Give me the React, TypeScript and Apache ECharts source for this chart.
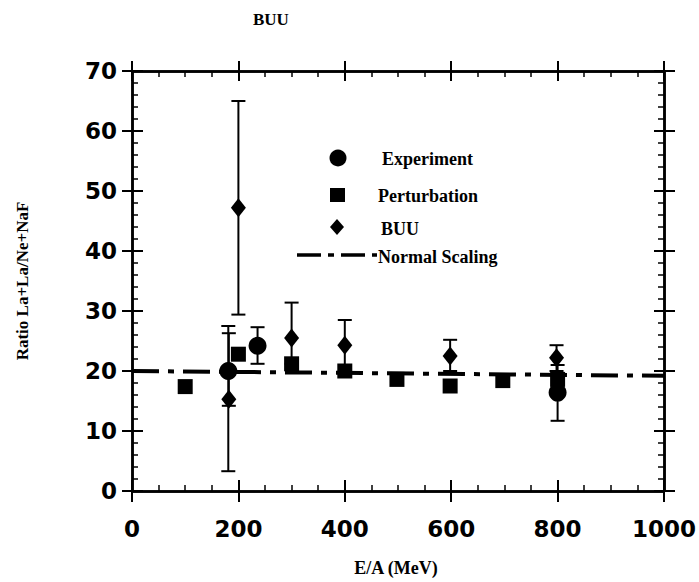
import React, { useEffect, useRef } from "react";
import * as echarts from "echarts";

// ---- data ----
const xTicks = [0, 200, 400, 600, 800, 1000];
const yTicks = [0, 10, 20, 30, 40, 50, 60, 70];

// [E/A, ratio]
const experiment = [
  [181, 20.0],
  [236, 24.2],
  [800, 16.4],
];
// [E/A, low, high]
const experimentErr = [
  [181, 3.3, 27.5],
  [236, 21.2, 27.3],
  [800, 11.7, 21.0],
];

const perturbation = [
  [100, 17.4],
  [200, 22.8],
  [300, 21.2],
  [400, 20.0],
  [498, 18.6],
  [598, 17.5],
  [697, 18.4],
  [800, 18.6],
];

const buu = [
  [182, 15.3],
  [200, 47.2],
  [300, 25.5],
  [400, 24.3],
  [598, 22.5],
  [798, 22.2],
];
const buuErr = [
  [182, 14.2, 26.3],
  [200, 29.4, 65.0],
  [300, 21.2, 31.4],
  [400, 20.0, 28.5],
  [598, 20.0, 25.2],
  [798, 20.0, 24.3],
];

const normalScaling = [
  [0, 20.0],
  [1000, 19.2],
];

const FONT_NUM = "DejaVu Sans";
const FONT_SERIF = "Liberation Serif";

export default function App() {
  const ref = useRef<HTMLDivElement>(null);

  useEffect(() => {
    document.body.style.margin = "0";
    const chart = echarts.init(ref.current!, undefined, { renderer: "svg" });

    const grid = { left: 132, top: 71, right: 35, bottom: 91, containLabel: false, outerBoundsMode: "none" };
    const axisLine = { show: true, onZero: false, lineStyle: { color: "#000", width: 2.5 } };
    const tickStyle = { color: "#000", width: 2 };
    const minorStyle = { color: "#000", width: 1.5 };

    const baseX = { type: "value", min: 0, max: 1000, interval: 200, splitLine: { show: false }, axisLine };
    const baseY = { type: "value", min: 0, max: 70, interval: 10, splitLine: { show: false }, axisLine };

    const errRender = (params: any, api: any) => {
      const x = api.value(0);
      const lo = api.coord([x, api.value(1)]);
      const hi = api.coord([x, api.value(2)]);
      const w = 7;
      const st = { stroke: "#000", lineWidth: 2 };
      return {
        type: "group",
        children: [
          { type: "line", shape: { x1: lo[0], y1: lo[1], x2: hi[0], y2: hi[1] }, style: st },
          { type: "line", shape: { x1: lo[0] - w, y1: lo[1], x2: lo[0] + w, y2: lo[1] }, style: st },
          { type: "line", shape: { x1: hi[0] - w, y1: hi[1], x2: hi[0] + w, y2: hi[1] }, style: st },
        ],
      };
    };

    const dash = [27, 9, 6, 9];
    const legendText = (text: string, x: number, y: number) => ({
      type: "text",
      x,
      y,
      style: { text, fontFamily: FONT_SERIF, fontSize: 18, fontWeight: "bold", fill: "#000", textVerticalAlign: "middle" },
    });
    const tickLabel = {
      color: "#000",
      fontFamily: FONT_NUM,
      fontSize: 23,
      fontWeight: "bold",
    };

    chart.setOption({
      animation: false,
      backgroundColor: "#fff",
      title: {
        text: "BUU",
        left: 253,
        top: 11,
        padding: 0,
        textStyle: { fontFamily: FONT_SERIF, fontSize: 17, fontWeight: "bold", color: "#000" },
      },
      grid: [grid, { ...grid }],
      xAxis: [
        {
          ...baseX,
          gridIndex: 0,
          position: "bottom",
          axisTick: { show: true, inside: false, length: 11, lineStyle: tickStyle },
          axisLabel: {
            ...tickLabel,
            margin: 26,
            formatter: (v: number) => (xTicks.includes(v) ? String(v) : ""),
          },
        },
        {
          ...baseX,
          gridIndex: 0,
          position: "top",
          axisTick: { show: true, inside: false, length: 10, lineStyle: tickStyle },
          axisLabel: { show: false },
        },
        {
          ...baseX,
          gridIndex: 1,
          position: "bottom",
          axisTick: { show: true, inside: true, length: 11, lineStyle: tickStyle },
          minorTick: { show: true, splitNumber: 4, length: 6, lineStyle: minorStyle },
          axisLabel: { show: false },
        },
        {
          ...baseX,
          gridIndex: 1,
          position: "top",
          axisTick: { show: true, inside: true, length: 10, lineStyle: tickStyle },
          minorTick: { show: true, splitNumber: 4, length: 6, lineStyle: minorStyle },
          axisLabel: { show: false },
        },
      ],
      yAxis: [
        {
          ...baseY,
          gridIndex: 0,
          position: "left",
          name: "Ratio La+La/Ne+NaF",
          nameLocation: "middle",
          nameGap: 101,
          nameTextStyle: { fontFamily: FONT_SERIF, fontSize: 17, fontWeight: "bold", color: "#000" },
          axisTick: { show: true, inside: false, length: 10, lineStyle: tickStyle },
          axisLabel: {
            ...tickLabel,
            margin: 15,
            formatter: (v: number) => (yTicks.includes(v) ? String(v) : ""),
          },
        },
        {
          ...baseY,
          gridIndex: 0,
          position: "right",
          axisTick: { show: true, inside: false, length: 11, lineStyle: tickStyle },
          axisLabel: { show: false },
        },
        {
          ...baseY,
          gridIndex: 1,
          position: "left",
          axisTick: { show: true, inside: true, length: 11, lineStyle: tickStyle },
          minorTick: { show: true, splitNumber: 5, length: 6, lineStyle: minorStyle },
          axisLabel: { show: false },
        },
        {
          ...baseY,
          gridIndex: 1,
          position: "right",
          axisTick: { show: true, inside: true, length: 10, lineStyle: tickStyle },
          minorTick: { show: true, splitNumber: 5, length: 6, lineStyle: minorStyle },
          axisLabel: { show: false },
        },
      ],
      graphic: [
        {
          type: "text",
          x: 396,
          y: 568,
          style: {
            text: "E/A (MeV)", fontFamily: FONT_SERIF, fontSize: 18, fontWeight: "bold", fill: "#000",
            textAlign: "center", textVerticalAlign: "middle",
          },
        },
        // legend
        { type: "circle", shape: { cx: 338, cy: 158, r: 8.5 }, style: { fill: "#000" } },
        legendText("Experiment", 382, 159),
        { type: "rect", shape: { x: 330, y: 188, width: 15, height: 14 }, style: { fill: "#000" } },
        legendText("Perturbation", 378, 196),
        { type: "polygon", shape: { points: [[337, 219], [344, 227], [337, 235], [330, 227]] }, style: { fill: "#000" } },
        legendText("BUU", 381, 229),
        {
          type: "line", shape: { x1: 297, y1: 255, x2: 377, y2: 255 },
          style: { stroke: "#000", lineWidth: 3.5, lineDash: [24, 7, 6, 7] },
        },
        legendText("Normal Scaling", 378, 257),
      ],
      series: [
        {
          name: "Normal Scaling",
          type: "line",
          xAxisIndex: 0,
          yAxisIndex: 0,
          data: normalScaling,
          symbol: "none",
          lineStyle: { color: "#000", width: 4, type: dash },
          z: 2,
        },
        {
          name: "Experiment error",
          type: "custom",
          xAxisIndex: 0,
          yAxisIndex: 0,
          data: experimentErr,
          renderItem: errRender,
          z: 3,
        },
        {
          name: "BUU error",
          type: "custom",
          xAxisIndex: 0,
          yAxisIndex: 0,
          data: buuErr,
          renderItem: errRender,
          z: 3,
        },
        {
          name: "Perturbation",
          type: "scatter",
          xAxisIndex: 0,
          yAxisIndex: 0,
          data: perturbation,
          symbol: "rect",
          symbolSize: 15,
          itemStyle: { color: "#000", opacity: 1 },
          z: 4,
        },
        {
          name: "BUU",
          type: "scatter",
          xAxisIndex: 0,
          yAxisIndex: 0,
          data: buu,
          symbol: "diamond",
          symbolSize: [15, 19],
          itemStyle: { color: "#000", opacity: 1 },
          z: 4,
        },
        {
          name: "Experiment",
          type: "scatter",
          xAxisIndex: 0,
          yAxisIndex: 0,
          data: experiment,
          symbol: "circle",
          symbolSize: 18,
          itemStyle: { color: "#000", opacity: 1 },
          z: 4,
        },
      ],
    });

    return () => chart.dispose();
  }, []);

  return <div ref={ref} style={{ width: 699, height: 582 }} />;
}
